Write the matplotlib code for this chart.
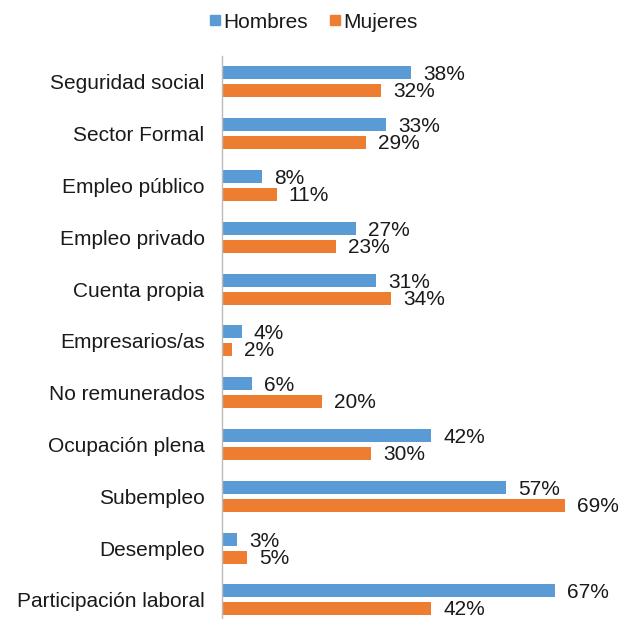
import matplotlib
matplotlib.use("Agg")
import matplotlib.pyplot as plt
from matplotlib.lines import Line2D
import numpy as np

plt.rcParams['font.family'] = ['Liberation Sans', 'DejaVu Sans']

categories = ["Seguridad social", "Sector Formal", "Empleo público", "Empleo privado",
              "Cuenta propia", "Empresarios/as", "No remunerados", "Ocupación plena",
              "Subempleo", "Desempleo", "Participación laboral"]
hombres = [38, 33, 8, 27, 31, 4, 6, 42, 57, 3, 67]
mujeres = [32, 29, 11, 23, 34, 2, 20, 30, 69, 5, 42]
series_names = ["Hombres", "Mujeres"]
colors = ["#5B9BD5", "#ED7D31"]
text_color = "#1a1a1a"

fig = plt.figure(figsize=(6.2, 6.19), dpi=100)
ax = fig.add_axes([0.358, 0.0, 0.562, 0.9095])

y = np.arange(len(categories))
h = 0.25
off = 0.174
ax.barh(y - off, hombres, height=h, color=colors[0])
ax.barh(y + off, mujeres, height=h, color=colors[1])

for yi, v in zip(y, hombres):
    ax.annotate(f"{v}%", (v, yi - off), xytext=(12, -2), textcoords="offset pixels",
                va="center", ha="left", fontsize=15, color=text_color)
for yi, v in zip(y, mujeres):
    ax.annotate(f"{v}%", (v, yi + off), xytext=(12, -1), textcoords="offset pixels",
                va="center", ha="left", fontsize=15, color=text_color)

ax.set_xlim(0, 70)
ax.set_ylim(10.37, -0.5)
ax.set_yticks(y)
ax.set_yticklabels(categories, fontsize=15, color=text_color)
ax.tick_params(axis="y", length=0, pad=12.5)
ax.set_xticks([])
for s in ["top", "right", "bottom"]:
    ax.spines[s].set_visible(False)
ax.spines["left"].set_color("#BBBBBB")
ax.spines["left"].set_linewidth(1.0)

handles = [Line2D([], [], marker="s", linestyle="", markersize=7,
                  markerfacecolor=c, markeredgecolor=c) for c in colors]
fig.legend(handles, series_names, loc="center", bbox_to_anchor=(0.503, 0.964),
           ncol=2, frameon=False, fontsize=15, handletextpad=0.0,
           columnspacing=0.9, handlelength=0.8, labelcolor=text_color)

fig.savefig("out.png", dpi=100)
